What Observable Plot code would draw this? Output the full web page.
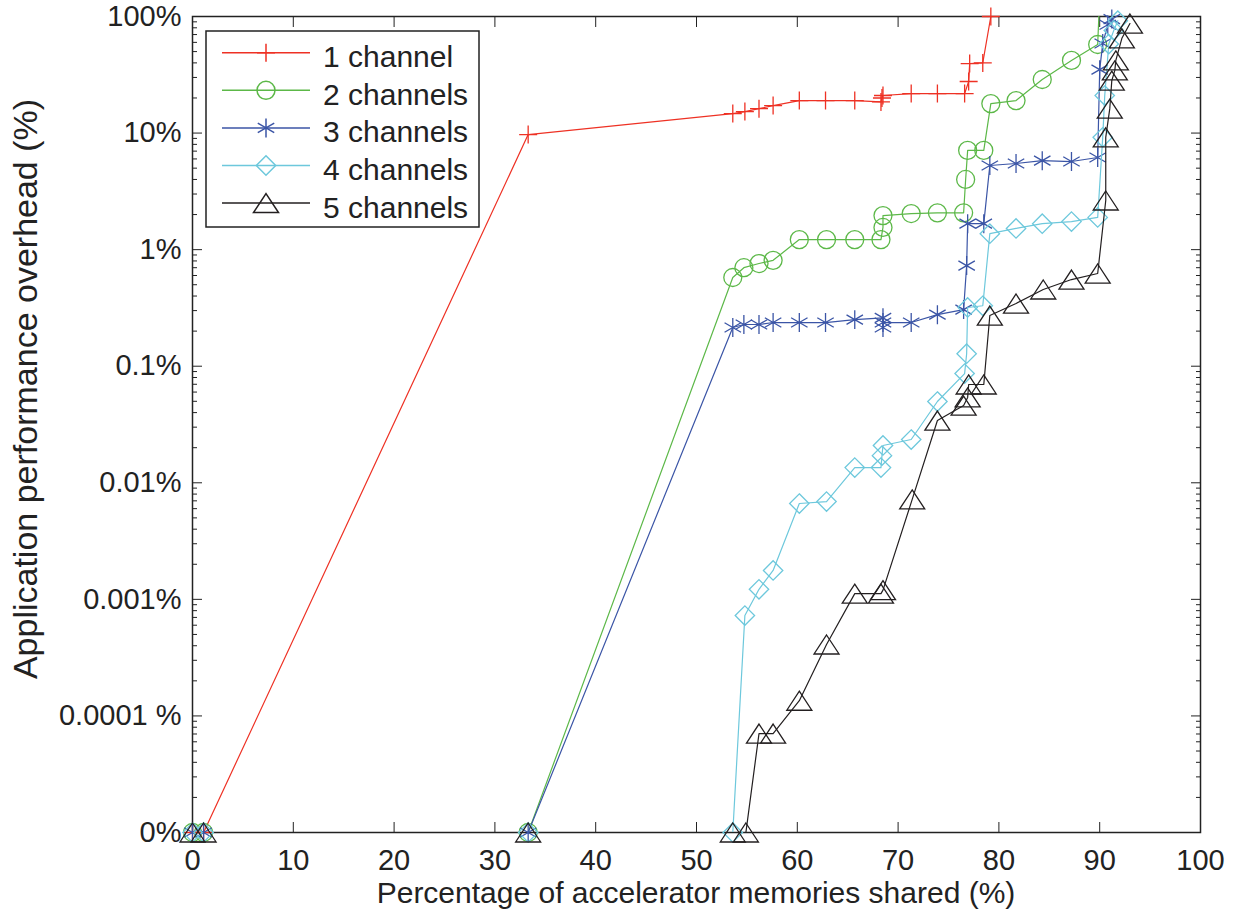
<!DOCTYPE html>
<html>
<head>
<meta charset="utf-8">
<script src="https://cdn.jsdelivr.net/npm/d3@7"></script>
<script src="https://cdn.jsdelivr.net/npm/@observablehq/plot@0.6"></script>
<style>
  html, body { margin: 0; padding: 0; background: #fff; }
  #chart svg { display: block; }
</style>
</head>
<body>
<div id="chart"></div>
<script>
// Percentage of accelerator memories shared (x) vs. application overhead in % (y)
const seriesNames = ["1 channel", "2 channels", "3 channels", "4 channels", "5 channels"];
const seriesColors = ["#ee3124", "#5cb848", "#3b55a6", "#6dc8dc", "#231f20"];

const ch1Shared   = [0, 1.1, 33.3, 53.6, 54.8, 56.2, 57.6, 60.2, 62.8, 65.7, 68.3, 68.4, 68.5, 71.3, 73.9, 76.6, 77.0, 77.1, 78.4, 79.2];
const ch1Overhead = [0, 0, 9.7, 14.7, 15.3, 16.2, 17.2, 19, 19, 19, 18.5, 20, 21, 21.8, 21.8, 21.8, 27.7, 39.5, 40, 100];

const ch2Shared   = [0, 1.1, 33.3, 53.6, 54.7, 56.2, 57.6, 60.2, 62.9, 65.7, 68.3, 68.5, 68.5, 71.3, 73.9, 76.5, 76.7, 76.9, 78.5, 79.2, 81.7, 84.3, 87.2, 89.8, 90.0];
const ch2Overhead = [0, 0, 0, 0.577, 0.70, 0.76, 0.81, 1.22, 1.22, 1.22, 1.22, 1.55, 1.96, 2.04, 2.07, 2.07, 4.0, 7.1, 7.1, 17.9, 19, 28.8, 42, 57.5, 150];

const ch3Shared   = [0, 1.1, 33.3, 53.6, 54.7, 56.2, 57.6, 60.2, 62.8, 65.7, 68.5, 68.5, 68.5, 71.3, 73.9, 76.5, 76.8, 76.9, 78.5, 79.1, 81.7, 84.3, 87.2, 89.8, 90.0, 90.3, 90.8, 91.2];
const ch3Overhead = [0, 0, 0, 0.215, 0.228, 0.228, 0.237, 0.237, 0.237, 0.251, 0.26, 0.215, 0.237, 0.237, 0.277, 0.306, 0.73, 1.67, 1.67, 5.27, 5.48, 5.8, 5.7, 6.17, 35, 58.6, 85, 95];

const ch4Shared   = [0, 1.1, 33.3, 53.6, 54.8, 56.2, 57.6, 60.2, 62.9, 65.7, 68.3, 68.4, 68.5, 71.3, 73.9, 76.6, 76.8, 76.9, 78.4, 79.1, 81.7, 84.3, 87.2, 89.8, 90.3, 90.5, 90.9, 91.4, 91.8];
const ch4Overhead = [0, 0, 0, 0, 0.000726, 0.00122, 0.00177, 0.00664, 0.0069, 0.0135, 0.0135, 0.0171, 0.0209, 0.0235, 0.0498, 0.0865, 0.128, 0.319, 0.33, 1.37, 1.52, 1.67, 1.74, 1.89, 9.2, 21, 58, 76, 92];

const ch5Shared   = [0, 1.1, 33.3, 53.6, 54.9, 56.2, 57.6, 60.2, 62.9, 65.7, 68.3, 68.5, 71.4, 73.9, 76.5, 76.9, 77.0, 78.5, 79.1, 81.7, 84.4, 87.2, 89.8, 90.6, 90.6, 91.0, 91.2, 91.5, 91.6, 92.2, 93.0];
const ch5Overhead = [0, 0, 0, 0, 0, 0.0000706, 0.0000706, 0.000135, 0.00041, 0.00112, 0.00112, 0.0012, 0.0072, 0.0342, 0.046, 0.054, 0.0697, 0.0697, 0.272, 0.345, 0.455, 0.554, 0.624, 2.64, 9.2, 16.2, 28.2, 34.5, 42, 65, 87];

const xTicks = [0, 10, 20, 30, 40, 50, 60, 70, 80, 90, 100];
const yTicks = [1e-5, 1e-4, 1e-3, 1e-2, 1e-1, 1, 10, 100];
const yTickLabels = ["0%", "0.0001 %", "0.001%", "0.01%", "0.1%", "1%", "10%", "100%"];

const xTitle = "Percentage of accelerator memories shared (%)";
const yTitle = "Application performance overhead (%)";

// A zero overhead sits on the "0%" row at the bottom of the log axis
const ZERO_ROW = yTicks[0];

// Minor ticks at 2..9 within each decade
const yMinorTicks = [];
for (let d = 0; d < yTicks.length - 1; d++)
  for (let k = 2; k <= 9; k++) yMinorTicks.push(yTicks[d] * k);

// Triangle drawn centred on its bounding box, wider than it is tall
const triangleSymbol = {
  draw(context, size) {
    const s = Math.sqrt(size);
    const a = 0.784 * s, h = 0.596 * s;
    context.moveTo(0, -h);
    context.lineTo(a, h);
    context.lineTo(-a, h);
    context.closePath();
  }
};
const seriesSymbols = [d3.symbolPlus, d3.symbolCircle, d3.symbolAsterisk, d3.symbolDiamond2, triangleSymbol];
const symbolRadius = [5.85, 9, 9, 8.74, 9];

const sharedCols = [ch1Shared, ch2Shared, ch3Shared, ch4Shared, ch5Shared];
const overheadCols = [ch1Overhead, ch2Overhead, ch3Overhead, ch4Overhead, ch5Overhead];
const tables = sharedCols.map((xs, i) => xs.map((x, j) => ({
  series: seriesNames[i],
  shared: x,
  overhead: overheadCols[i][j] === 0 ? ZERO_ROW : overheadCols[i][j]
})));

const fontFamily = '"Liberation Sans", Arial, Helvetica, sans-serif';
const ink = "#222";
const tickFont = 29;
const titleFont = 30;
const yTitleFont = 34;

const W = 1239, H = 914;
const margin = {top: 16, right: 39, bottom: 82, left: 192};

const marks = [
  Plot.frame({stroke: ink, strokeWidth: 1.5}),
  // inward ticks on all four sides
  Plot.axisX({ticks: xTicks, anchor: "bottom", tickSize: -10, fill: "none", stroke: ink, label: null}),
  Plot.axisX({ticks: xTicks, anchor: "top", tickSize: -10, fill: "none", stroke: ink, label: null}),
  Plot.axisY({ticks: yTicks, anchor: "left", tickSize: -10, fill: "none", stroke: ink, label: null}),
  Plot.axisY({ticks: yTicks, anchor: "right", tickSize: -10, fill: "none", stroke: ink, label: null}),
  Plot.axisY({ticks: yMinorTicks, anchor: "left", tickSize: -5, fill: "none", stroke: ink, label: null}),
  Plot.axisY({ticks: yMinorTicks, anchor: "right", tickSize: -5, fill: "none", stroke: ink, label: null}),
  // tick labels
  Plot.axisX({ticks: xTicks, anchor: "bottom", tickSize: 0, tickPadding: 17, fontSize: tickFont, fill: ink, label: null}),
  Plot.axisY({ticks: yTicks, anchor: "left", tickSize: 0, tickPadding: 11, fontSize: tickFont, fill: ink, label: null,
    tickFormat: (d) => yTickLabels[yTicks.indexOf(d)]})
];

tables.forEach((rows, i) => {
  marks.push(Plot.line(rows, {x: "shared", y: "overhead", stroke: seriesColors[i], strokeWidth: 1.2, clip: true}));
  marks.push(Plot.dot(rows, {
    x: "shared", y: "overhead", filter: (d) => d.overhead <= 100,
    symbol: seriesSymbols[i], r: symbolRadius[i],
    stroke: seriesColors[i], fill: "none", strokeWidth: 1.3
  }));
});

const svg = Plot.plot({
  width: W, height: H,
  marginTop: margin.top, marginRight: margin.right, marginBottom: margin.bottom, marginLeft: margin.left,
  style: {fontFamily, background: "#fff", color: ink},
  x: {domain: [0, 100], label: null},
  y: {type: "log", domain: [yTicks[0], yTicks[yTicks.length - 1]], label: null},
  marks
});

const root = d3.select(svg);

// axis titles
root.append("text")
  .attr("x", 696).attr("y", 903)
  .attr("text-anchor", "middle")
  .attr("font-family", fontFamily).attr("font-size", titleFont).attr("fill", ink)
  .text(xTitle);
root.append("text")
  .attr("transform", "translate(37,389) rotate(-90)")
  .attr("text-anchor", "middle")
  .attr("font-family", fontFamily).attr("font-size", yTitleFont).attr("fill", ink)
  .text(yTitle);

// legend box in the upper-left corner of the plot area
const legend = root.append("g");
legend.append("rect")
  .attr("x", 206).attr("y", 31).attr("width", 273).attr("height", 196)
  .attr("fill", "#fff").attr("stroke", ink).attr("stroke-width", 1.5);
seriesNames.forEach((name, i) => {
  const cy = 52.7 + i * 37.6;
  legend.append("line")
    .attr("x1", 222).attr("x2", 310).attr("y1", cy).attr("y2", cy)
    .attr("stroke", seriesColors[i]).attr("stroke-width", 1.5);
  legend.append("path")
    .attr("transform", `translate(266,${cy})`)
    .attr("d", d3.symbol(seriesSymbols[i], Math.PI * symbolRadius[i] ** 2)())
    .attr("fill", "none").attr("stroke", seriesColors[i]).attr("stroke-width", 1.5);
  legend.append("text")
    .attr("x", 323).attr("y", cy + 14.5)
    .attr("text-anchor", "start")
    .attr("font-family", fontFamily).attr("font-size", titleFont).attr("fill", ink)
    .text(name);
});

document.getElementById("chart").appendChild(svg);
</script>
</body>
</html>
